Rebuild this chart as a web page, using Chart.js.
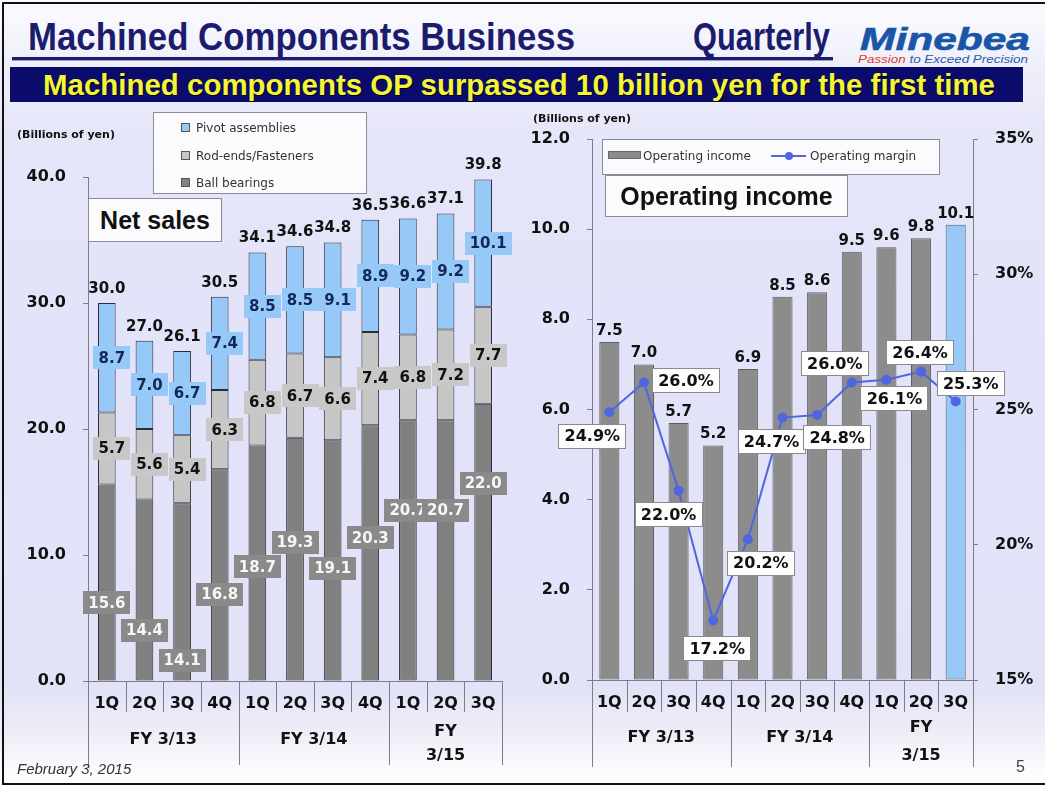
<!DOCTYPE html>
<html>
<head>
<meta charset="utf-8">
<title>Machined Components Business</title>
<script src="https://cdn.jsdelivr.net/npm/chart.js@4.4.1/dist/chart.umd.min.js"></script>
<style>
  html, body { margin: 0; padding: 0; }
  body {
    width: 1045px; height: 785px; position: relative; overflow: hidden;
    background: linear-gradient(to bottom, #fbfbfe 0px, #f0f0fb 60px, #e6e6f9 130px, #e2e2f9 380px, #e3e3f8 690px, #eeeef8 735px, #fdfdfd 775px);
    font-family: "DejaVu Sans", sans-serif;
  }
  .abs { position: absolute; white-space: nowrap; }
  .frame { position: absolute; left: 2px; top: 2px; width: 1041px; height: 779px; border: 2px solid #111; border-right: none; pointer-events: none; }
  .head { font: bold 39px/39px "Liberation Sans Narrow", "Liberation Sans", sans-serif; color: #1c1c6e; transform-origin: left top; }
  .rule { left: 12px; top: 57px; width: 821px; height: 3px; background: #1c1c6e; box-shadow: 0 1px 0 #9a9ac8; }
  .banner { left: 10px; top: 67px; width: 1013px; height: 35px; background: #0b0b6c; }
  .banner span { position: absolute; left: 33px; top: 2px; font: bold 30px/31px "Liberation Sans Narrow", "Liberation Sans", sans-serif; color: #f4f43a; text-shadow: 1px 1px 0 #000; transform-origin: left top; }
  .logo { left: 860px; top: 24px; font: italic bold 31px/31px "Liberation Sans", sans-serif; color: #1a56a8; -webkit-text-stroke: 0.6px #1a56a8; transform-origin: left top; }
  .tag { left: 858px; top: 54px; font: italic 10px/11px "Liberation Sans", sans-serif; color: #2a5aa8; transform-origin: left top; }
  .tag b { color: #d8402e; font-weight: normal; }
  .unit { font: bold 11px/12px "DejaVu Sans", sans-serif; color: #111; }
  .box { background: #fbfbfd; border: 1px solid #8a8a9a; box-sizing: border-box; }
  .big { font: bold 25px/25px "Liberation Sans", sans-serif; color: #111; display: flex; align-items: center; justify-content: center; }
  .leg { font: 12px/14px "DejaVu Sans", sans-serif; color: #333; }
  .sw { display: inline-block; width: 7px; height: 7px; border: 1px solid #555; margin-right: 6px; vertical-align: 0px; }
  canvas { position: absolute; }
</style>
</head>
<body>
<div class="frame"></div>
<div class="abs head" id="t1" style="left:28px;top:17px">Machined Components Business</div>
<div class="abs head" id="t2" style="left:693px;top:17px">Quarterly</div>
<div class="abs rule"></div>
<div class="abs logo" id="logo">Minebea</div>
<div class="abs tag" id="tag"><b>Passion</b> to Exceed Precision</div>
<div class="abs banner"><span id="bn">Machined components OP surpassed 10 billion yen for the first time</span></div>

<canvas id="sales" width="520" height="675" style="left:0;top:110px"></canvas>
<canvas id="income" width="525" height="675" style="left:520px;top:110px"></canvas>

<div class="abs unit" style="left:17px;top:129px">(Billions of yen)</div>
<div class="abs unit" style="left:533px;top:113px">(Billions of yen)</div>
<div class="abs box" id="salesLegend" style="left:153px;top:112px;width:214px;height:82px"></div>
<div class="abs box big" style="left:88px;top:198px;width:134px;height:44px">Net sales</div>
<div class="abs box" id="incomeLegend" style="left:602px;top:139px;width:338px;height:36px"></div>
<div class="abs box big" style="left:605px;top:175px;width:243px;height:42px">Operating income</div>
<div class="abs" style="left:17px;top:760px;font:italic 15px/18px 'Liberation Sans',sans-serif;color:#333">February 3, 2015</div>
<div class="abs" style="left:1016px;top:758px;font:16px/18px 'Liberation Sans',sans-serif;color:#444">5</div>

<script>
/* ─── Data ───────────────────────────────────────────────────────────────── */
const QUARTERS  = ['1Q', '2Q', '3Q', '4Q', '1Q', '2Q', '3Q', '4Q', '1Q', '2Q', '3Q'];
const FY_GROUPS = ['FY 3/13', 'FY 3/14', 'FY\n3/15'];
const FY_SPAN   = [4, 4, 3];

const BALL_BEARINGS    = [15.6, 14.4, 14.1, 16.8, 18.7, 19.3, 19.1, 20.3, 20.7, 20.7, 22.0];
const ROD_ENDS         = [5.7, 5.6, 5.4, 6.3, 6.8, 6.7, 6.6, 7.4, 6.8, 7.2, 7.7];
const PIVOT_ASSEMBLIES = [8.7, 7.0, 6.7, 7.4, 8.5, 8.5, 9.1, 8.9, 9.2, 9.2, 10.1];
const NET_SALES        = [30.0, 27.0, 26.1, 30.5, 34.1, 34.6, 34.8, 36.5, 36.6, 37.1, 39.8];

const OP_INCOME = [7.5, 7.0, 5.7, 5.2, 6.9, 8.5, 8.6, 9.5, 9.6, 9.8, 10.1];
const OP_MARGIN = [24.9, 26.0, 22.0, 17.2, 20.2, 24.7, 24.8, 26.0, 26.1, 26.4, 25.3];

const SALES_TICKS  = [0, 10, 20, 30, 40];
const INCOME_TICKS = [0, 2, 4, 6, 8, 10, 12];
const MARGIN_TICKS = [15, 20, 25, 30, 35];

/* ─── Colours ────────────────────────────────────────────────────────────── */
const C = {
  ball: '#808080', rod: '#c6c6c6', pivot: '#96c8f8',
  income: '#8c8c8c', incomeNow: '#96c8f8', margin: '#4f66e0',
  axis: '#7c7c8c', text: '#111'
};
const FONT = '"DejaVu Sans", sans-serif';

/* label tag look per stacked series (bottom → top); ball-bearing tags sit off-centre */
const SALES_TAGS = [
  { dx: 0, bg: '#8a8a8a', fg: '#f6f6f6', shift: [-1.6, -3.2, -5.4, -1.5, -0.3, 1.35, -0.6, 1.2, 3.2, 3.2, 4.7] },
  { dx: 5, bg: '#c8c8c8', fg: '#111111', shift: null },
  { dx: 5, bg: '#96c8f8', fg: '#12285a', shift: null }
];
/* margin tag placement relative to its point, px */
const MARGIN_TAG_AT = [[-17, 24], [42, -2], [-10, 24], [4, 28], [13, 24], [-11, 24],
                       [20, 23], [-17, -19], [8, 19], [-1, -19], [15, -18]];

Chart.defaults.font.family = FONT;
Chart.defaults.animation = false;
Chart.defaults.plugins.legend.display = false;
Chart.defaults.plugins.tooltip.enabled = false;

/* ─── Helpers ────────────────────────────────────────────────────────────── */
function fit(id, w) {
  const el = document.getElementById(id);
  el.style.transform = `scaleX(${w / el.getBoundingClientRect().width})`;
}

function tag(ctx, text, cx, cy, bg, fg, border, padX, h) {
  const w = Math.round(ctx.measureText(text).width + 2 * padX);
  const x0 = Math.round(cx - w / 2), y0 = Math.round(cy - h / 2);
  ctx.fillStyle = bg;
  ctx.fillRect(x0, y0, w, h);
  if (border) {
    ctx.strokeStyle = border;
    ctx.lineWidth = 1;
    ctx.strokeRect(x0 + 0.5, y0 + 0.5, w - 1, h - 1);
  }
  ctx.fillStyle = fg;
  ctx.fillText(text, cx, cy + 1);
}

function yAxis(ticks, width, fmt, extra) {
  return Object.assign({
    min: ticks[0], max: ticks[ticks.length - 1],
    afterBuildTicks: s => { s.ticks = ticks.map(v => ({ value: v })); },
    afterFit: s => { s.width = width; },
    grid:   { drawOnChartArea: false, drawTicks: true, tickLength: 5, color: C.axis },
    border: { color: C.axis, width: 1 },
    ticks:  { color: C.text, font: { size: 16, weight: 'bold' }, padding: 17, callback: fmt }
  }, extra);
}

function xAxis(height, extra) {
  return Object.assign({
    afterFit: s => { s.height = height; },
    grid:   { drawOnChartArea: false, drawTicks: false, color: C.axis },
    border: { color: C.axis, width: 1 },
    ticks:  { color: C.text, font: { size: 16, weight: 'bold' }, padding: 13, autoSkip: false, maxRotation: 0 }
  }, extra);
}

/* ─── Quarter / fiscal-year axis decoration ──────────────────────────────── */
const quarterAxis = {
  id: 'quarterAxis',
  afterDraw(chart, args, o) {
    const { ctx, chartArea: ca } = chart;
    const x = chart.scales.x;
    const n = chart.data.labels.length;
    const edges = [0];
    FY_SPAN.forEach(s => edges.push(edges[edges.length - 1] + s));
    const edgeAt = i => i === 0 ? ca.left : i === n ? ca.right
      : (x.getPixelForValue(i - 1) + x.getPixelForValue(i)) / 2;

    ctx.save();
    ctx.strokeStyle = C.axis;
    ctx.lineWidth = 1;
    for (let i = 0; i <= n; i++) {
      const px = Math.round(edgeAt(i)) + 0.5;
      ctx.beginPath();
      ctx.moveTo(px, ca.bottom);
      ctx.lineTo(px, ca.bottom + (edges.includes(i) ? o.longTick : o.shortTick));
      ctx.stroke();
    }
    ctx.fillStyle = C.text;
    ctx.font = `bold 16px ${FONT}`;
    ctx.textAlign = 'center';
    ctx.textBaseline = 'middle';
    FY_GROUPS.forEach((g, k) => {
      const cx = (edgeAt(edges[k]) + edgeAt(edges[k + 1])) / 2;
      const lines = g.split('\n');
      if (lines.length === 1) ctx.fillText(g, cx, ca.bottom + o.groupY);
      else lines.forEach((t, j) => ctx.fillText(t, cx, ca.bottom + (j ? o.groupY2b : o.groupY2a)));
    });
    ctx.restore();
  }
};

/* ─── Net sales value tags ───────────────────────────────────────────────── */
const salesLabels = {
  id: 'salesLabels',
  afterDatasetsDraw(chart, args, o) {
    const { ctx } = chart;
    const y = chart.scales.y;
    const base = chart.data.labels.map(() => 0);
    ctx.save();
    ctx.textAlign = 'center';
    ctx.textBaseline = 'middle';
    ctx.font = `bold 15px ${FONT}`;
    chart.data.datasets.forEach((ds, d) => {
      const st = SALES_TAGS[d];
      chart.getDatasetMeta(d).data.forEach((bar, i) => {
        const v = ds.data[i];
        const shift = st.shift ? st.shift[i] : 0;
        const cy = y.getPixelForValue(base[i] + v / 2 + shift);
        tag(ctx, v.toFixed(1), bar.x + st.dx, cy, st.bg, st.fg, null, 5, 23);
        base[i] += v;
      });
    });
    const top = chart.getDatasetMeta(chart.data.datasets.length - 1);
    ctx.fillStyle = C.text;
    top.data.forEach((bar, i) => ctx.fillText(NET_SALES[i].toFixed(1), bar.x, bar.y - o.totalGap));
    ctx.restore();
  }
};

/* ─── Operating income tags ──────────────────────────────────────────────── */
const incomeLabels = {
  id: 'incomeLabels',
  afterDatasetsDraw(chart, args, o) {
    const { ctx } = chart;
    ctx.save();
    ctx.textAlign = 'center';
    ctx.textBaseline = 'middle';
    ctx.font = `bold 15px ${FONT}`;
    ctx.fillStyle = C.text;
    chart.getDatasetMeta(0).data.forEach((bar, i) =>
      ctx.fillText(OP_INCOME[i].toFixed(1), bar.x, bar.y - o.barGap));
    ctx.font = `bold 16px ${FONT}`;
    chart.getDatasetMeta(1).data.forEach((pt, i) => {
      const [dx, dy] = MARGIN_TAG_AT[i];
      tag(ctx, OP_MARGIN[i].toFixed(1) + '%', pt.x + dx, pt.y + dy, '#fdfdfd', C.text, '#8a8a8a', 6, 25);
    });
    ctx.restore();
  }
};

/* ─── Net sales chart ────────────────────────────────────────────────────── */
const SALES_SERIES = [
  { label: 'Ball bearings',      data: BALL_BEARINGS,    color: C.ball },
  { label: 'Rod-ends/Fasteners', data: ROD_ENDS,         color: C.rod },
  { label: 'Pivot assemblies',   data: PIVOT_ASSEMBLIES, color: C.pivot }
];

new Chart(document.getElementById('sales'), {
  type: 'bar',
  data: {
    labels: QUARTERS,
    datasets: SALES_SERIES.map(s => ({
      label: s.label,
      data: s.data,
      backgroundColor: s.color,
      borderColor: '#2c2c36',
      borderWidth: 1,
      borderSkipped: false,
      barPercentage: 0.47,
      categoryPercentage: 1
    }))
  },
  options: {
    responsive: false,
    layout: { padding: { top: 67, right: 18, left: 0, bottom: 0 } },
    scales: {
      x: xAxis(104, { stacked: true }),
      y: yAxis(SALES_TICKS, 88, v => v.toFixed(1), { stacked: true })
    },
    plugins: {
      quarterAxis: { shortTick: 31, longTick: 84, groupY: 59, groupY2a: 51, groupY2b: 75 },
      salesLabels: { totalGap: 14 }
    }
  },
  plugins: [quarterAxis, salesLabels]
});

/* ─── Operating income chart ─────────────────────────────────────────────── */
new Chart(document.getElementById('income'), {
  type: 'bar',
  data: {
    labels: QUARTERS,
    datasets: [
      {
        label: 'Operating income',
        data: OP_INCOME,
        yAxisID: 'y',
        order: 1,
        backgroundColor: OP_INCOME.map((v, i) => i === OP_INCOME.length - 1 ? C.incomeNow : C.income),
        borderColor: '#5c5c66',
        borderWidth: 1,
        borderSkipped: false,
        barPercentage: 0.58,
        categoryPercentage: 1
      },
      {
        type: 'line',
        label: 'Operating margin',
        data: OP_MARGIN,
        yAxisID: 'y2',
        order: 0,
        borderColor: C.margin,
        backgroundColor: C.margin,
        borderWidth: 2,
        pointStyle: 'circle',
        pointRadius: 4,
        tension: 0
      }
    ]
  },
  options: {
    responsive: false,
    layout: { padding: { top: 29, right: 0, left: 0, bottom: 0 } },
    scales: {
      x: xAxis(105),
      y: yAxis(INCOME_TICKS, 72, v => v.toFixed(1), { position: 'left' }),
      y2: yAxis(MARGIN_TICKS, 72, v => v + '%', { position: 'right' })
    },
    plugins: {
      quarterAxis: { shortTick: 32, longTick: 87, groupY: 58, groupY2a: 48, groupY2b: 76 },
      incomeLabels: { barGap: 11 }
    }
  },
  plugins: [quarterAxis, incomeLabels]
});

/* ─── HTML legends ───────────────────────────────────────────────────────── */
document.getElementById('salesLegend').innerHTML = [...SALES_SERIES].reverse().map((s, k) =>
  `<div class="abs leg" style="left:27px;top:${8 + k * 27.5}px">` +
  `<span class="sw" style="background:${s.color}"></span>${s.label}</div>`).join('');

document.getElementById('incomeLegend').innerHTML =
  `<div class="abs" style="left:5px;top:11px;width:33px;height:8px;background:${C.income};border:1px solid #666;box-sizing:border-box"></div>` +
  `<div class="abs leg" style="left:40px;top:9px">Operating income</div>` +
  `<div class="abs" style="left:168px;top:15px;width:35px;height:2px;background:${C.margin}"></div>` +
  `<div class="abs" style="left:182px;top:12px;width:8px;height:8px;border-radius:50%;background:${C.margin}"></div>` +
  `<div class="abs leg" style="left:207px;top:9px">Operating margin</div>`;

/* ─── Fit headline widths ────────────────────────────────────────────────── */
fit('t1', 547);
fit('t2', 137);
fit('logo', 170);
fit('tag', 170);
fit('bn', 952);
</script>
</body>
</html>
